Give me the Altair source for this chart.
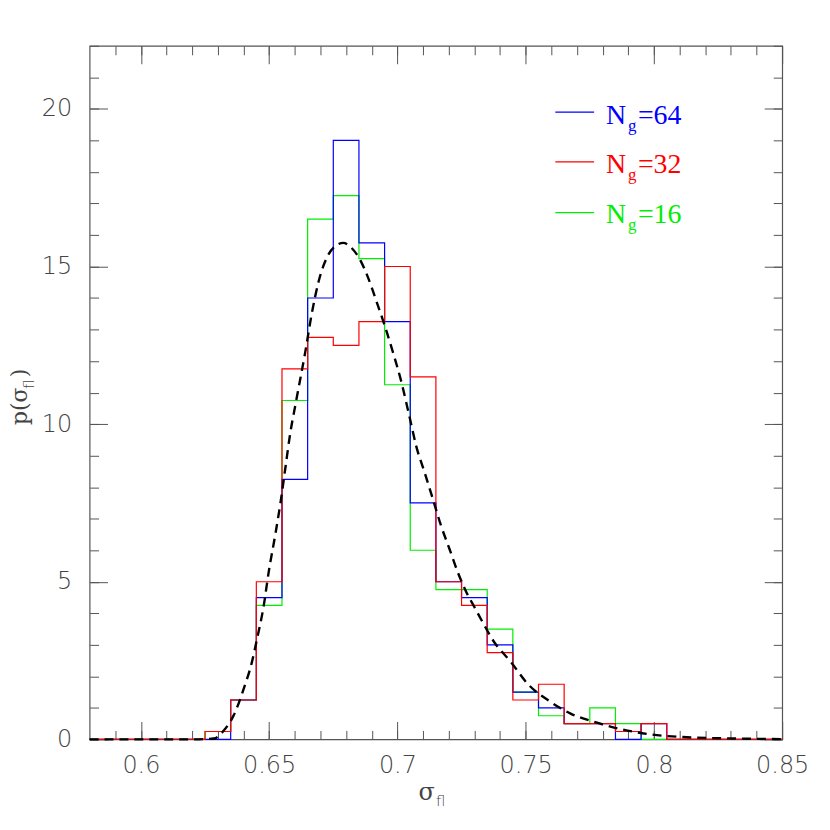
import altair as alt
import pandas as pd

# ---------------- data ----------------
X_MIN, X_MAX = 0.58, 0.85
Y_MIN, Y_MAX = 0, 22

bin_left = [0.625, 0.635, 0.645, 0.655, 0.665, 0.675, 0.685, 0.695, 0.705,
            0.715, 0.725, 0.735, 0.745, 0.755, 0.765, 0.775, 0.785, 0.795]
bin_width = 0.01

p_ng64 = [0, 1.25, 4.5, 8.25, 14, 19, 15.75, 13.25, 7.5, 5, 4.5, 3, 1.5, 1, 0.5, 0.5, 0, 0.5]
p_ng32 = [0.25, 1.25, 5, 11.75, 12.75, 12.5, 13.25, 15, 11.5, 5, 4.25, 2.75, 1.25, 1.75, 0.5, 0.5, 0.25, 0.5]
p_ng16 = [0.25, 1.25, 4.25, 10.75, 16.5, 17.25, 15.25, 11.25, 6, 4.75, 4.75, 3.5, 1.5, 0.75, 0.5, 1.0, 0.5, 0]

curve_x = [0.580, 0.600, 0.620, 0.6285, 0.6324, 0.6362, 0.6401, 0.6433, 0.6453, 0.6479,
           0.6498, 0.6524, 0.6544, 0.6563, 0.6582, 0.6602, 0.6641, 0.6666, 0.6692, 0.6724,
           0.6757, 0.6789, 0.6821, 0.6854, 0.6886, 0.6918, 0.6951, 0.6983, 0.7015, 0.7048,
           0.7073, 0.7106, 0.7138, 0.7170, 0.7203, 0.7235, 0.7267, 0.7300, 0.7332, 0.7377,
           0.7442, 0.7507, 0.7597, 0.7675, 0.7766, 0.7869, 0.7985, 0.8101, 0.830, 0.850]
curve_y = [0.0, 0.0, 0.0, 0.03, 0.29, 0.77, 1.61, 2.46, 3.2, 4.25,
           5.3, 6.5, 7.5, 8.6, 9.7, 10.6, 12.3, 13.5, 14.5, 15.27,
           15.64, 15.75, 15.59, 15.22, 14.64, 13.9, 13.11, 12.27, 11.35, 10.2,
           9.31, 8.47, 7.63, 6.78, 6.04, 5.31, 4.7, 4.2, 3.72, 3.09,
           2.46, 1.77, 1.19, 0.82, 0.56, 0.33, 0.16, 0.08, 0.03, 0.01]

x_major = [0.6, 0.65, 0.7, 0.75, 0.8, 0.85]
x_minor = [round(0.59 + 0.01 * i, 2) for i in range(26)]
y_major = [0, 5, 10, 15, 20]
y_minor = list(range(0, 23))

series_names = ["Ng=64", "Ng=32", "Ng=16"]
series_colors = ["#0000ff", "#ff0000", "#00ee00"]

# ---------------- layout constants ----------------
W, H = 696, 697
TICK_COLOR = "#555555"
LABEL_COLOR = "#444444"


def step_frame(vals):
    xs = [X_MIN] + bin_left + [bin_left[-1] + bin_width, X_MAX]
    ys = [0] + list(vals) + [0, 0]
    return pd.DataFrame({"x": xs, "y": ys})


xs = alt.Scale(domain=[X_MIN, X_MAX], nice=False, zero=False)
ys = alt.Scale(domain=[Y_MIN, Y_MAX], nice=False, zero=False)

curve_df = pd.DataFrame({"x": curve_x, "y": curve_y})
dummy = pd.DataFrame({"d": [0]})


def axis_layer(xaxis, yaxis):
    return alt.Chart(curve_df).mark_point(opacity=0).encode(
        x=alt.X("x:Q", scale=xs, axis=xaxis),
        y=alt.Y("y:Q", scale=ys, axis=yaxis),
    )


common = dict(grid=False, title=None, domain=False)
lab_common = dict(labelFont="DejaVu Sans", labelFontSize=24, labelFontWeight=200,
                  labelColor=LABEL_COLOR, labelFlush=False, labelOverlap=False)

layers = []
# labels
layers.append(axis_layer(
    alt.Axis(orient="bottom", values=x_major, format="~g", ticks=False, tickSize=0,
             labelPadding=14, **lab_common, **common),
    alt.Axis(orient="left", values=y_major, format="d", ticks=False, tickSize=0,
             labelPadding=18, **lab_common, **common),
))
# inward ticks: bottom/left (major + minor) and top/right (major + minor)
for size, xv, yv in [(18, x_major, y_major), (9, x_minor, y_minor)]:
    layers.append(axis_layer(
        alt.Axis(orient="top", offset=-H, values=xv, labels=False, tickSize=size,
                 tickColor=TICK_COLOR, tickWidth=1, **common),
        alt.Axis(orient="right", offset=-W, values=yv, labels=False, tickSize=size,
                 tickColor=TICK_COLOR, tickWidth=1, **common),
    ))
    layers.append(axis_layer(
        alt.Axis(orient="bottom", offset=-H, values=xv, labels=False, tickSize=size,
                 tickColor=TICK_COLOR, tickWidth=1, **common),
        alt.Axis(orient="left", offset=-W, values=yv, labels=False, tickSize=size,
                 tickColor=TICK_COLOR, tickWidth=1, **common),
    ))

# histograms (draw green, blue, then red on top)
for vals, col in [(p_ng16, series_colors[2]), (p_ng64, series_colors[0]), (p_ng32, series_colors[1])]:
    layers.append(alt.Chart(step_frame(vals)).mark_line(
        interpolate="step-after", strokeWidth=1.2, color=col
    ).encode(
        x=alt.X("x:Q", scale=xs, axis=None),
        y=alt.Y("y:Q", scale=ys, axis=None),
    ))

# dashed fitted curve
layers.append(alt.Chart(curve_df).mark_line(
    color="black", strokeWidth=2.4, strokeDash=[9, 6], interpolate="monotone"
).encode(
    x=alt.X("x:Q", scale=xs, axis=None),
    y=alt.Y("y:Q", scale=ys, axis=None),
))

# legend (lines + labels)
leg_line_y = [66.7, 116.7, 167.7]
leg_base_y = [78.3, 128.3, 178.3]
leg_vals = ["=64", "=32", "=16"]
for i in range(3):
    col = series_colors[i]
    layers.append(alt.Chart(dummy).mark_rule(color=col, strokeWidth=1.2).encode(
        x=alt.value(468), x2=alt.value(507), y=alt.value(leg_line_y[i])))
    layers.append(alt.Chart(dummy).mark_text(
        font="Liberation Serif", fontSize=28, color=col, align="left", baseline="alphabetic"
    ).encode(x=alt.value(519), y=alt.value(leg_base_y[i]), text=alt.value("N")))
    layers.append(alt.Chart(dummy).mark_text(
        font="Liberation Serif", fontSize=17, color=col, align="left", baseline="alphabetic"
    ).encode(x=alt.value(541), y=alt.value(leg_base_y[i] + 7), text=alt.value("g")))
    layers.append(alt.Chart(dummy).mark_text(
        font="Liberation Serif", fontSize=28, color=col, align="left", baseline="alphabetic"
    ).encode(x=alt.value(551), y=alt.value(leg_base_y[i]), text=alt.value(leg_vals[i])))

# x axis title: sigma_fl
layers.append(alt.Chart(dummy).mark_text(
    font="DejaVu Serif", fontSize=24, color=LABEL_COLOR, align="right", baseline="alphabetic"
).encode(x=alt.value(347), y=alt.value(758), text=alt.value("σ")))
layers.append(alt.Chart(dummy).mark_text(
    font="DejaVu Sans", fontSize=15, color=LABEL_COLOR, align="left", baseline="alphabetic",
    fontWeight=200
).encode(x=alt.value(348), y=alt.value(764), text=alt.value("fl")))

# y axis title: p(sigma_fl)
layers.append(alt.Chart(dummy).mark_text(
    font="DejaVu Serif", fontSize=22, color=LABEL_COLOR, align="left", baseline="alphabetic", angle=270
).encode(x=alt.value(-63), y=alt.value(381), text=alt.value("p(σ")))
layers.append(alt.Chart(dummy).mark_text(
    font="DejaVu Sans", fontSize=15, color=LABEL_COLOR, align="left", baseline="alphabetic", angle=270,
    fontWeight=200
).encode(x=alt.value(-56), y=alt.value(345), text=alt.value("fl")))
layers.append(alt.Chart(dummy).mark_text(
    font="DejaVu Serif", fontSize=22, color=LABEL_COLOR, align="left", baseline="alphabetic", angle=270
).encode(x=alt.value(-63), y=alt.value(333), text=alt.value(")")))

chart = alt.layer(*layers).resolve_scale(x="independent", y="independent").properties(
    width=W, height=H,
    autosize=alt.AutoSizeParams(type="none"),
    padding={"left": 82, "top": 36, "right": 40, "bottom": 80},
).configure_view(stroke="#555555", strokeWidth=1.2)

chart.save("out.html", embed_options={"renderer": "svg", "actions": False})
